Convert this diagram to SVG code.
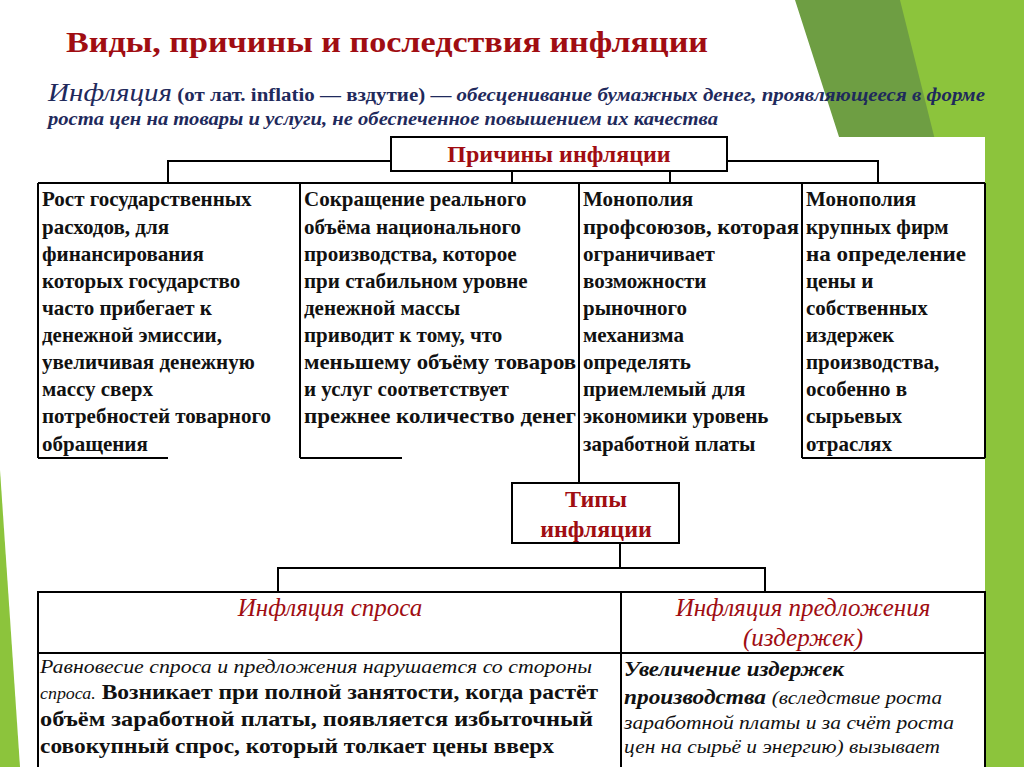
<svg xmlns="http://www.w3.org/2000/svg" width="1024" height="767" viewBox="0 0 1024 767">
<style>
text{font-family:"Liberation Serif","DejaVu Serif",serif}
.b{fill:#fff;stroke:#000;stroke-width:2}
.l{fill:none;stroke:#000;stroke-width:2}
.t{font-weight:bold;font-size:21px;fill:#111}
.r{font-weight:bold;font-size:24px;fill:#a00d12}
.ri{font-style:italic;font-size:25px;fill:#a00d12}
.i{font-style:italic;font-size:19px;fill:#111}
</style>
<rect width="1024" height="767" fill="#fff"/>
<polygon points="795,0 1024,0 1024,767 985,767 985,140 840,140" fill="#6e9e43"/>
<polygon points="900,0 1024,0 1024,767 985,767 985,140 935,140" fill="#8cc43c"/>
<polygon points="0,470 20,767 0,767" fill="#8cc43c"/>
<rect x="20" y="137" width="965" height="630" fill="#fff"/>
<text x="66" y="52" textLength="642" lengthAdjust="spacingAndGlyphs" style="font-weight:bold;font-size:30px;fill:#a00d12">Виды, причины и последствия инфляции</text>
<text x="48" y="101" textLength="937" lengthAdjust="spacingAndGlyphs" style="font-size:18px;fill:#1f2a5c;font-weight:bold"><tspan style="font-style:italic;font-size:25px;font-weight:normal">Инфляция</tspan> (от лат. inflatio — вздутие) — <tspan font-style="italic">обесценивание  бумажных денег, проявляющееся в форме</tspan></text>
<text x="48" y="125" textLength="670" lengthAdjust="spacingAndGlyphs" style="font-size:18px;fill:#1f2a5c;font-weight:bold;font-style:italic">роста цен на товары и услуги, не обеспеченное повышением их качества</text>
<g id="connectors">
<path class="l" d="M168,183V161H878V183M512,161V183M670,161V183M579,458V483M620,543V568M278,592V568H765V592"/>
</g>
<g id="causes">
<rect class="b" x="391" y="137" width="336" height="34"/>
<text class="r" x="559" y="162" text-anchor="middle">Причины инфляции</text>
</g>
<g id="cause-cols">
<path class="l" d="M38,183H985M38,183V458M300,183V458M579,183V458M802,183V458M985,183V458M38,458H168M300,458H402M802,458H985"/>
<text class="t"><tspan x="42" y="206">Рост государственных</tspan><tspan x="42" y="234">расходов, для</tspan><tspan x="42" y="261">финансирования</tspan><tspan x="42" y="288">которых государство</tspan><tspan x="42" y="315">часто   прибегает к</tspan><tspan x="42" y="342">денежной эмиссии,</tspan><tspan x="42" y="369">увеличивая денежную</tspan><tspan x="42" y="396">массу   сверх</tspan><tspan x="42" y="423">потребностей товарного</tspan><tspan x="42" y="451">обращения</tspan></text>
<text class="t"><tspan x="304" y="206">Сокращение реального</tspan><tspan x="304" y="234">объёма национального</tspan><tspan x="304" y="261">производства, которое</tspan><tspan x="304" y="288">при стабильном уровне</tspan><tspan x="304" y="315">денежной массы</tspan><tspan x="304" y="342">приводит к тому, что</tspan><tspan x="304" y="369" textLength="272" lengthAdjust="spacingAndGlyphs">меньшему объёму товаров</tspan><tspan x="304" y="396">и услуг соответствует</tspan><tspan x="304" y="423" textLength="272" lengthAdjust="spacingAndGlyphs">прежнее количество денег</tspan></text>
<text class="t"><tspan x="583" y="206">Монополия</tspan><tspan x="583" y="234" textLength="216" lengthAdjust="spacingAndGlyphs">профсоюзов, которая</tspan><tspan x="583" y="261">ограничивает</tspan><tspan x="583" y="288">возможности</tspan><tspan x="583" y="315">рыночного</tspan><tspan x="583" y="342">механизма</tspan><tspan x="583" y="369">определять</tspan><tspan x="583" y="396">приемлемый для</tspan><tspan x="583" y="423">экономики уровень</tspan><tspan x="583" y="451">заработной платы</tspan></text>
<text class="t"><tspan x="806" y="206">Монополия</tspan><tspan x="806" y="234">крупных фирм</tspan><tspan x="806" y="261" textLength="160" lengthAdjust="spacingAndGlyphs">на определение</tspan><tspan x="806" y="288">цены и</tspan><tspan x="806" y="315">собственных</tspan><tspan x="806" y="342">издержек</tspan><tspan x="806" y="369">производства,</tspan><tspan x="806" y="396">особенно в</tspan><tspan x="806" y="423">сырьевых</tspan><tspan x="806" y="451">отраслях</tspan></text>
</g>
<g id="types">
<rect class="b" x="512" y="483" width="167" height="60"/>
<text class="r" x="596" y="507" text-anchor="middle">Типы</text>
<text class="r" x="596" y="537" text-anchor="middle">инфляции</text>
</g>
<g id="types-table">
<rect class="b" x="38" y="592" width="947" height="190"/>
<path class="l" d="M621,592V767M38,653H985"/>
<text class="ri" x="330" y="616" text-anchor="middle">Инфляция спроса</text>
<text class="ri" x="803" y="616" text-anchor="middle">Инфляция предложения</text>
<text class="ri" x="803" y="646" text-anchor="middle">(издержек)</text>
<text class="i" x="40" y="673" textLength="552" lengthAdjust="spacingAndGlyphs">Равновесие спроса и предложения   нарушается со стороны</text>
<text class="t" x="40" y="699" textLength="558" lengthAdjust="spacingAndGlyphs"><tspan class="i" style="font-weight:normal;font-size:16px">спроса.</tspan> Возникает при полной занятости, когда растёт</text>
<text class="t" x="40" y="726" textLength="553" lengthAdjust="spacingAndGlyphs">объём заработной  платы,   появляется  избыточный</text>
<text class="t" x="40" y="753" textLength="514" lengthAdjust="spacingAndGlyphs">совокупный спрос, который толкает цены вверх</text>
<text class="t" font-style="italic" x="624" y="676" textLength="220" lengthAdjust="spacingAndGlyphs">Увеличение издержек</text>
<text class="t" font-style="italic" x="624" y="704" textLength="318" lengthAdjust="spacingAndGlyphs">производства <tspan style="font-weight:normal;font-size:19px">(вследствие роста</tspan></text>
<text class="i" x="624" y="729" textLength="330" lengthAdjust="spacingAndGlyphs">заработной платы и за счёт роста</text>
<text class="i" x="624" y="753" textLength="316" lengthAdjust="spacingAndGlyphs">цен на сырьё и энергию) вызывает</text>
</g>
</svg>
